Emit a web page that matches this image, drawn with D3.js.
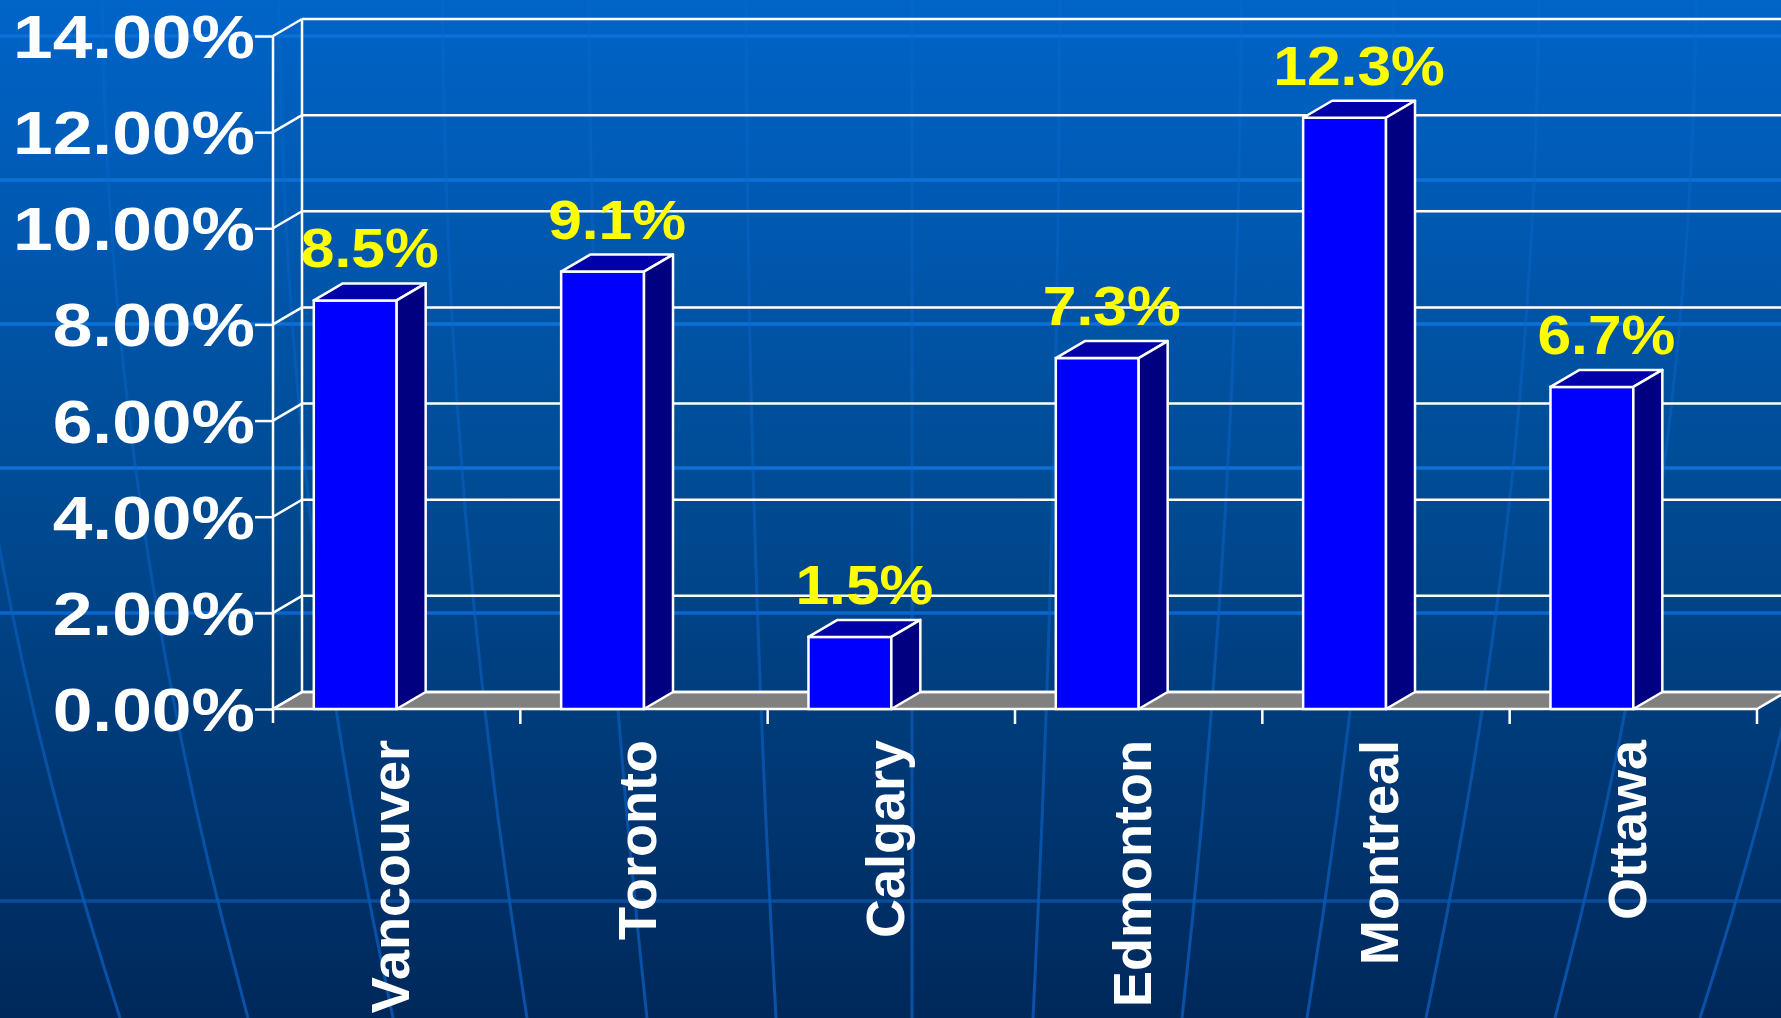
<!DOCTYPE html>
<html>
<head>
<meta charset="utf-8">
<script src="https://cdn.jsdelivr.net/npm/d3@7"></script>
<style>
  html, body { margin: 0; padding: 0; overflow: hidden; background: #003a78; }
  text { font-family: "Liberation Sans", Arial, sans-serif; font-weight: bold; }
</style>
</head>
<body>
<div class="chart"></div>
<script>
// chart data
var categories = ["Vancouver", "Toronto", "Calgary", "Edmonton", "Montreal", "Ottawa"];
var values = [8.5, 9.1, 1.5, 7.3, 12.3, 6.7];
var valueLabels = ["8.5%", "9.1%", "1.5%", "7.3%", "12.3%", "6.7%"];
var yTicks = [0, 2, 4, 6, 8, 10, 12, 14];
var yTickLabels = ["0.00%", "2.00%", "4.00%", "6.00%", "8.00%", "10.00%", "12.00%", "14.00%"];

var svgWidth = 1781;
var svgHeight = 1018;

// plot frame (front plane) and the 3d depth offset
var frame = { left: 273, right: 1757, top: 36, bottom: 709 };
var depth = { dx: 29, dy: -17 };

var svg = d3.select(".chart")
  .append("svg")
  .attr("width", svgWidth)
  .attr("height", svgHeight);

// background gradient
var defs = svg.append("defs");
var grad = defs.append("linearGradient")
  .attr("id", "bg")
  .attr("x1", 0).attr("y1", 0).attr("x2", 0).attr("y2", 1);
grad.append("stop").attr("offset", "0%").attr("stop-color", "#0064c8");
grad.append("stop").attr("offset", "50%").attr("stop-color", "#004a92");
grad.append("stop").attr("offset", "100%").attr("stop-color", "#00285a");

// meridian stroke fades out towards the top
var mgrad = defs.append("linearGradient")
  .attr("id", "mer")
  .attr("gradientUnits", "userSpaceOnUse")
  .attr("x1", 0).attr("y1", 0).attr("x2", 0).attr("y2", svgHeight);
mgrad.append("stop").attr("offset", "0%").attr("stop-color", "#0a6ad0").attr("stop-opacity", 0.35);
mgrad.append("stop").attr("offset", "55%").attr("stop-color", "#0a62c4").attr("stop-opacity", 0.55);
mgrad.append("stop").attr("offset", "100%").attr("stop-color", "#0a56b0").attr("stop-opacity", 0.9);

svg.append("rect")
  .attr("width", svgWidth)
  .attr("height", svgHeight)
  .attr("fill", "url(#bg)");

// slide background: faint globe lines
var deco = svg.append("g")
  .attr("fill", "none");

[36, 180, 324, 468, 613, 901].forEach(function(y) {
  deco.append("line")
    .attr("x1", 0).attr("x2", svgWidth)
    .attr("y1", y).attr("y2", y)
    .attr("stroke", y < 500 ? "#0c70d8" : (y < 700 ? "#0a66cc" : "#0a4c9c"))
    .attr("stroke-width", 3.5);
});

var globeCx = 912;
var meridian = d3.line().curve(d3.curveBasis);
[-10, 120, 248, 393, 527, 647, 776, 912, 1033, 1182, 1307, 1426, 1555, 1700, 1850].forEach(function(xb) {
  var p = d3.range(0, 1.0001, 0.1).map(function(t) {
    var f = 1 + 0.426 * t - 0.206 * t * t;
    return [globeCx + (xb - globeCx) * f, svgHeight * (1 - t)];
  });
  deco.append("path")
    .attr("d", meridian(p))
    .attr("stroke", "url(#mer)")
    .attr("stroke-width", 3);
});

// scales
var xBandScale = d3.scaleBand()
  .domain(categories)
  .range([frame.left, frame.right])
  .padding(0);

var yLinearScale = d3.scaleLinear()
  .domain([0, 14])
  .range([frame.bottom, frame.top]);

var chartGroup = svg.append("g");

// floor
var floorPts = [
  [frame.left, frame.bottom],
  [frame.right, frame.bottom],
  [frame.right + depth.dx, frame.bottom + depth.dy],
  [frame.left + depth.dx, frame.bottom + depth.dy]
];
chartGroup.append("polygon")
  .attr("points", floorPts.map(function(p) { return p.join(","); }).join(" "))
  .attr("fill", "#808080")
  .attr("stroke", "white")
  .attr("stroke-width", 2.5);

// back wall gridlines
chartGroup.selectAll(".grid")
  .data(yTicks)
  .enter()
  .append("line")
  .attr("class", "grid")
  .attr("x1", frame.left + depth.dx)
  .attr("x2", svgWidth + 10)
  .attr("y1", d => yLinearScale(d) + depth.dy)
  .attr("y2", d => yLinearScale(d) + depth.dy)
  .attr("stroke", "white")
  .attr("stroke-width", 2.5);

// side wall diagonals
chartGroup.selectAll(".side")
  .data(yTicks)
  .enter()
  .append("line")
  .attr("class", "side")
  .attr("x1", frame.left)
  .attr("x2", frame.left + depth.dx)
  .attr("y1", d => yLinearScale(d))
  .attr("y2", d => yLinearScale(d) + depth.dy)
  .attr("stroke", "white")
  .attr("stroke-width", 2.5);

// back wall left edge
chartGroup.append("line")
  .attr("x1", frame.left + depth.dx)
  .attr("x2", frame.left + depth.dx)
  .attr("y1", yLinearScale(14) + depth.dy)
  .attr("y2", yLinearScale(0) + depth.dy)
  .attr("stroke", "white")
  .attr("stroke-width", 2.5);

// y axis (front)
var leftAxis = d3.axisLeft(yLinearScale)
  .tickValues(yTicks)
  .tickSize(18)
  .tickFormat("");
var yAxisG = chartGroup.append("g")
  .attr("transform", `translate(${frame.left}, 0)`)
  .call(leftAxis);
yAxisG.select(".domain").remove();
yAxisG.selectAll("line").attr("stroke", "white").attr("stroke-width", 2.5);
yAxisG.append("line")
  .attr("x1", 0).attr("x2", 0)
  .attr("y1", yLinearScale(14))
  .attr("y2", yLinearScale(0) + 14)
  .attr("stroke", "white")
  .attr("stroke-width", 2.5);

// y tick labels
chartGroup.selectAll(".ylab")
  .data(yTicks)
  .enter()
  .append("text")
  .attr("class", "ylab")
  .attr("transform", d => `translate(${frame.left - 18}, ${yLinearScale(d)}) scale(1.17, 1)`)
  .attr("dy", "0.36em")
  .attr("text-anchor", "end")
  .attr("font-size", "61px")
  .attr("fill", "white")
  .text((d, i) => yTickLabels[i]);

// x axis ticks (front floor edge)
var bottomAxis = d3.axisBottom(xBandScale).tickSize(0).tickFormat("");
var xAxisG = chartGroup.append("g")
  .attr("transform", `translate(0, ${frame.bottom})`)
  .call(bottomAxis);
xAxisG.select(".domain").remove();
var bounds = categories.map(c => xBandScale(c)).concat([frame.right]);
xAxisG.selectAll(".xtick")
  .data(bounds.slice(1))
  .enter()
  .append("line")
  .attr("class", "xtick")
  .attr("x1", d => d).attr("x2", d => d)
  .attr("y1", 0).attr("y2", 15)
  .attr("stroke", "white")
  .attr("stroke-width", 2.5);

// 3d bars
var barW = xBandScale.bandwidth() * 0.335;
var bars = chartGroup.selectAll(".bar")
  .data(values)
  .enter()
  .append("g")
  .attr("class", "bar");

function pts(arr) { return arr.map(p => p.join(",")).join(" "); }

bars.append("rect")
  .attr("x", (d, i) => xBandScale(categories[i]) + xBandScale.bandwidth() / 2 - barW)
  .attr("y", d => yLinearScale(d))
  .attr("width", barW)
  .attr("height", d => yLinearScale(0) - yLinearScale(d))
  .attr("fill", "#0000ff")
  .attr("stroke", "white")
  .attr("stroke-width", 2.5);

bars.append("polygon")
  .attr("points", function(d, i) {
    var x1 = xBandScale(categories[i]) + xBandScale.bandwidth() / 2;
    var x0 = x1 - barW;
    var y = yLinearScale(d);
    return pts([[x0, y], [x0 + depth.dx, y + depth.dy], [x1 + depth.dx, y + depth.dy], [x1, y]]);
  })
  .attr("fill", "#0000aa")
  .attr("stroke", "white")
  .attr("stroke-width", 2.5)
  .attr("stroke-linejoin", "round");

bars.append("polygon")
  .attr("points", function(d, i) {
    var x1 = xBandScale(categories[i]) + xBandScale.bandwidth() / 2;
    var y = yLinearScale(d);
    var y0 = yLinearScale(0);
    return pts([[x1, y], [x1 + depth.dx, y + depth.dy], [x1 + depth.dx, y0 + depth.dy], [x1, y0]]);
  })
  .attr("fill", "#000080")
  .attr("stroke", "white")
  .attr("stroke-width", 2.5)
  .attr("stroke-linejoin", "round");

// value labels
chartGroup.selectAll(".vlab")
  .data(values)
  .enter()
  .append("text")
  .attr("class", "vlab")
  .attr("transform", function(d, i) {
    var cx = xBandScale(categories[i]) + xBandScale.bandwidth() / 2 - barW / 2 + depth.dx / 2;
    var cy = yLinearScale(d) + depth.dy - 16;
    return `translate(${cx}, ${cy}) scale(1.08, 1)`;
  })
  .attr("text-anchor", "middle")
  .attr("font-size", "56px")
  .attr("fill", "#ffff00")
  .text((d, i) => valueLabels[i]);

// category labels (vertical)
chartGroup.selectAll(".xlab")
  .data(categories)
  .enter()
  .append("text")
  .attr("class", "xlab")
  .attr("transform", d => `translate(${xBandScale(d) + xBandScale.bandwidth() / 2 - 7}, 740) rotate(-90)`)
  .attr("dy", "0.36em")
  .attr("text-anchor", "end")
  .attr("font-size", "54px")
  .attr("fill", "white")
  .text(d => d);
</script>
</body>
</html>
